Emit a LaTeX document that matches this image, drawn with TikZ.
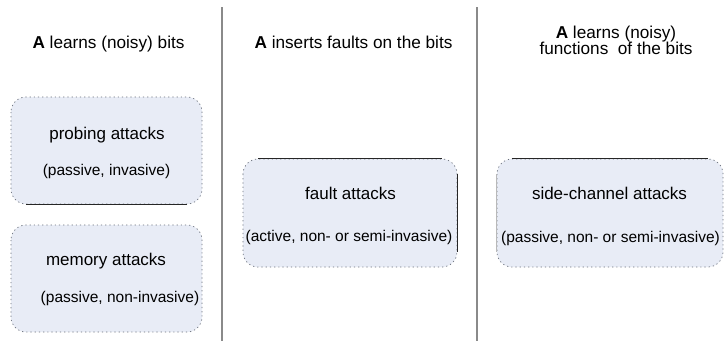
\documentclass[tikz,border=0pt]{standalone}
\usepackage{fontspec}
\setmainfont{Liberation Sans}
\begin{document}
\begin{tikzpicture}[x=1pt,y=-1pt,
  boxbg/.style={rounded corners=15pt, fill=boxfill, draw=boxedge, line width=0.7pt,
    dash pattern=on 1.2pt off 3pt, inner sep=0pt},
  boxnode/.style={inner sep=0pt},
  solidedge/.style={draw=black!85, line width=0.9pt},
  faintedge/.style={draw=gray!55, line width=0.9pt},
  sep/.style={draw=sepgray, line width=1.4pt},
  title/.style={anchor=base, inner sep=0pt, font=\fontsize{17.2}{20}\selectfont},
  mainlbl/.style={anchor=base, inner sep=0pt, font=\fontsize{17}{20}\selectfont},
  sublbl/.style={anchor=base, inner sep=0pt, font=\fontsize{15.5}{18}\selectfont}]
\definecolor{boxfill}{HTML}{E8ECF6}
\definecolor{boxedge}{HTML}{6A707C}
\definecolor{sepgray}{HTML}{8A8A8A}
\useasboundingbox[fill=white] (0,0) rectangle (725,341);

% column separators
\coordinate (s1top) at (222,7);   \coordinate (s1bot) at (222,341);
\coordinate (s2top) at (477,7);   \coordinate (s2bot) at (477,341);
\draw[sep] (s1top) -- (s1bot);
\draw[sep] (s2top) -- (s2bot);

% column headings
\node[title] (t1) at (108.5,48) {\textbf{A} learns (noisy) bits};
\node[title] (t2) at (353.5,48) {\textbf{A} inserts faults on the bits};
\node[title] (t3a) at (616,38) {\textbf{A} learns (noisy)};
\node[title] (t3b) at (616,54) {functions\ \ of the bits};

% attack boxes
\path[boxbg] (11,97) rectangle (202,204);
\node[boxnode, minimum width=191pt, minimum height=107pt] (probing) at (106.5,150.5) {};
\path[boxbg] (11,225) rectangle (202,332);
\node[boxnode, minimum width=191pt, minimum height=107pt] (memory) at (106.5,278.5) {};
\path[boxbg] (243,159) rectangle (457,267);
\node[boxnode, minimum width=214pt, minimum height=108pt] (fault) at (350,213) {};
\path[boxbg] (497,159) rectangle (723,267);
\node[boxnode, minimum width=226pt, minimum height=108pt] (side) at (610,213) {};

% solid edge segments
\draw[solidedge] ([xshift=15pt]probing.south west) -- ([xshift=-15pt]probing.south east);
\draw[solidedge] ([xshift=15pt]fault.north west) -- ([xshift=-15pt]fault.north east);
\draw[solidedge] ([yshift=-15pt]fault.north east) -- ([yshift=15pt]fault.south east);
\draw[solidedge] ([xshift=15pt]side.north west) -- ([xshift=-15pt]side.north east);
\draw[faintedge] ([yshift=-15pt]side.north west) -- ([yshift=15pt]side.south west);

% box labels
\node[mainlbl] (pm) at (107,139) {probing attacks};
\node[sublbl]  (ps) at (106.5,175) {(passive, invasive)};
\node[mainlbl] (mm) at (106,265) {memory attacks};
\node[sublbl]  (ms) at (120,302) {(passive, non-invasive)};
\node[mainlbl] (fm) at (350.5,199) {fault attacks};
\node[sublbl]  (fs) at (349,241) {(active, non- or semi-invasive)};
\node[mainlbl] (sm) at (609.5,199) {side-channel attacks};
\node[sublbl]  (ss) at (610.5,242) {(passive, non- or semi-invasive)};
\end{tikzpicture}
\end{document}
